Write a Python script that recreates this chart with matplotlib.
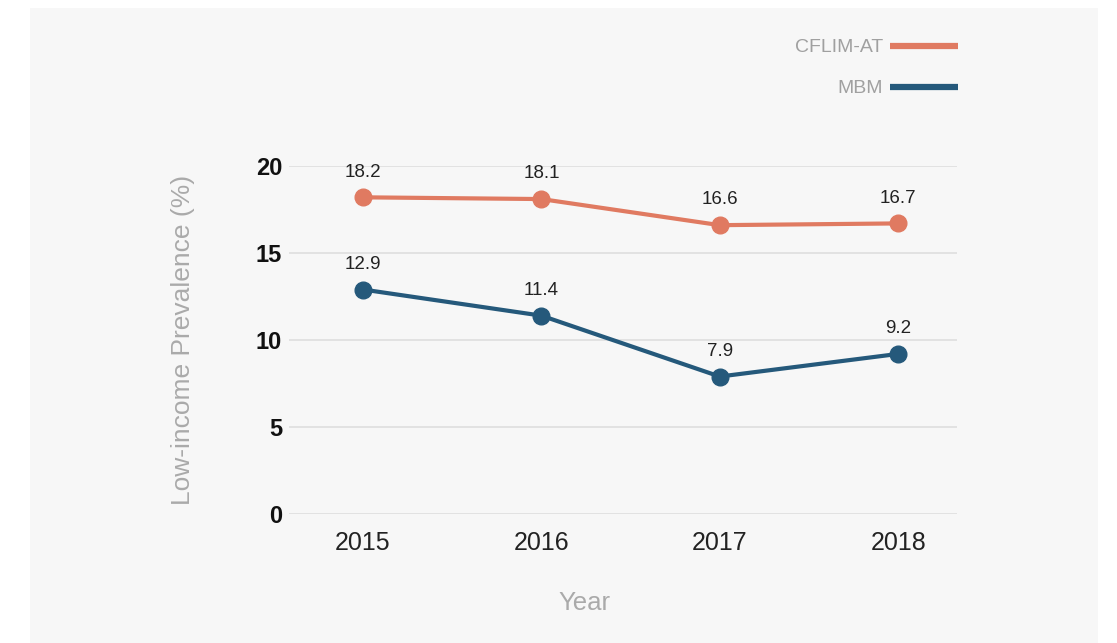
import matplotlib.pyplot as plt
from matplotlib.patches import Rectangle
from matplotlib.lines import Line2D

plt.rcParams['font.family'] = ['Liberation Sans', 'DejaVu Sans']

# data
years = [2015, 2016, 2017, 2018]
cflim_at = [18.2, 18.1, 16.6, 16.7]
mbm = [12.9, 11.4, 7.9, 9.2]
y_ticks = [0, 5, 10, 15, 20]

orange = "#e07a61"
blue = "#25597b"
panel_bg = "#f7f7f7"

fig = plt.figure(figsize=(11.17, 6.43), dpi=100)
fig.patch.set_facecolor("white")

# light panel behind the chart
fig.patches.append(Rectangle((30 / 1117, 0), (1098 - 30) / 1117, 1 - 8 / 643,
                             transform=fig.transFigure, facecolor=panel_bg,
                             edgecolor="none", zorder=-10))

ax = fig.add_axes([289 / 1117, 1 - 514 / 643, (957 - 289) / 1117, (514 - 166) / 643])
ax.set_facecolor("none")
ax.set_zorder(2)

ax.plot(years, cflim_at, color=orange, lw=3, marker="o", ms=12, zorder=3,
        clip_on=False)
ax.plot(years, mbm, color=blue, lw=3, marker="o", ms=12, zorder=3,
        clip_on=False)

for x, v in zip(years, cflim_at):
    ax.annotate(f"{v}", (x, v), xytext=(0, 12), textcoords="offset points",
                ha="center", va="bottom", fontsize=13.5, color="#222222")
for x, v in zip(years, mbm):
    ax.annotate(f"{v}", (x, v), xytext=(0, 12), textcoords="offset points",
                ha="center", va="bottom", fontsize=13.5, color="#222222")

ax.set_xlim(2014.585, 2018.33)
ax.set_ylim(0, 20)
ax.set_yticks(y_ticks)
ax.set_xticks(years)
ax.set_xticklabels([str(y) for y in years])
ax.grid(axis="y", color="#dedede", lw=1.2)
ax.set_axisbelow(True)
for s in ax.spines.values():
    s.set_visible(False)
ax.tick_params(axis="both", length=0)
ax.tick_params(axis="y", labelsize=17, pad=5, labelcolor="#111111")
ax.tick_params(axis="x", labelsize=18, pad=12, labelcolor="#222222")
for lab in ax.get_yticklabels():
    lab.set_fontweight("bold")

ax.set_ylabel("Low-income Prevalence (%)", fontsize=19, color="#aaaaaa")
ax.yaxis.set_label_coords(-0.141, 0.5)
ax.set_xlabel("Year", fontsize=18.5, color="#aaaaaa")
ax.xaxis.set_label_coords(0.443, -0.222)

# legend (top right)
legend_items = [("CFLIM-AT", orange, 46), ("MBM", blue, 87)]
for name, col, ypix in legend_items:
    yf = 1 - ypix / 643
    fig.lines.append(Line2D([890 / 1117, 958 / 1117], [yf, yf], lw=4.5, color=col,
                            solid_capstyle="butt", transform=fig.transFigure))
    fig.text(883 / 1117, yf - 1.5 / 643, name, ha="right", va="center",
             fontsize=14, color="#a0a0a0")

fig.savefig("out.png", dpi=100)
